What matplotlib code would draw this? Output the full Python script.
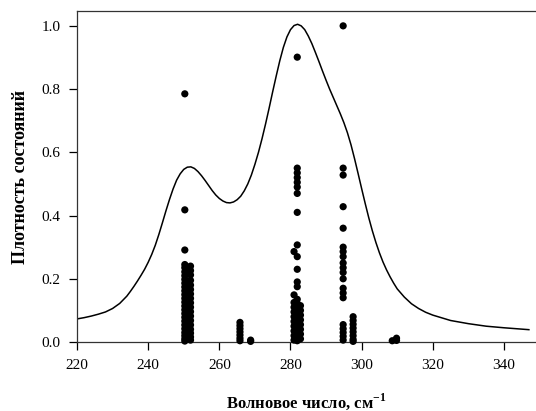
import matplotlib
matplotlib.use("Agg")
import matplotlib.pyplot as plt

plt.rcParams['font.family'] = ['Liberation Serif', 'DejaVu Serif']
plt.rcParams['mathtext.fontset'] = 'custom'
plt.rcParams['mathtext.rm'] = 'Liberation Serif'
plt.rcParams['mathtext.bf'] = 'Liberation Serif:bold'

# Broadened density-of-states curve
curve_x = [220, 222, 224, 226, 228, 230, 232, 234, 235, 236, 237, 238, 239, 240,
           241, 242, 243, 244, 245, 246, 247, 248, 249, 250, 251, 252, 253, 254,
           255, 256, 257, 258, 259, 260, 261, 262, 263, 264, 265, 266, 267, 268,
           269, 270, 271, 272, 273, 274, 275, 276, 277, 278, 279, 280, 281, 282,
           283, 284, 285, 286, 287, 288, 289, 290, 291, 292, 293, 294, 295, 296,
           297, 298, 299, 300, 301, 302, 303, 304, 305, 306, 307, 308, 309, 310,
           312, 314, 316, 318, 320, 325, 330, 335, 340, 347]
curve_y = [0.073, 0.077, 0.082, 0.088, 0.095, 0.106, 0.122, 0.145, 0.160, 0.176,
           0.193, 0.211, 0.230, 0.252, 0.277, 0.306, 0.340, 0.377, 0.415, 0.451,
           0.484, 0.512, 0.532, 0.546, 0.553, 0.554, 0.549, 0.539, 0.526, 0.511,
           0.495, 0.479, 0.465, 0.454, 0.446, 0.441, 0.440, 0.443, 0.450, 0.461,
           0.478, 0.500, 0.528, 0.562, 0.600, 0.643, 0.690, 0.740, 0.792, 0.842,
           0.890, 0.932, 0.965, 0.988, 1.001, 1.005, 1.000, 0.988, 0.968, 0.944,
           0.916, 0.887, 0.857, 0.828, 0.800, 0.774, 0.748, 0.722, 0.694, 0.662,
           0.624, 0.580, 0.533, 0.485, 0.438, 0.393, 0.352, 0.315, 0.282, 0.253,
           0.228, 0.206, 0.186, 0.168, 0.142, 0.121, 0.106, 0.094, 0.085, 0.068,
           0.058, 0.050, 0.045, 0.039]

# Individual modes (stick spectrum)
stick_x_250a = 250.3
stick_y_250a = [0.785, 0.418, 0.291, 0.245, 0.235, 0.222, 0.210, 0.198, 0.186,
                0.174, 0.162, 0.150, 0.138, 0.126, 0.114, 0.102, 0.090, 0.078,
                0.066, 0.054, 0.042, 0.030, 0.020, 0.010, 0.003]
stick_x_250b = 251.9
stick_y_250b = [0.240, 0.226, 0.212, 0.195, 0.180, 0.166, 0.152, 0.138, 0.124,
                0.110, 0.096, 0.082, 0.068, 0.054, 0.040, 0.028, 0.016, 0.006]
stick_x_266a = 265.8
stick_y_266a = [0.062, 0.052, 0.042, 0.032, 0.022, 0.012, 0.004]
stick_x_266b = 268.8
stick_y_266b = [0.006, 0.002]
stick_x_282a = 281.9
stick_y_282a = [0.901, 0.55, 0.535, 0.52, 0.505, 0.49, 0.47, 0.41, 0.307, 0.27,
                0.23, 0.19, 0.175, 0.135, 0.122, 0.110, 0.098, 0.086, 0.074,
                0.062, 0.050, 0.038, 0.026, 0.014, 0.004]
stick_x_282b = 281.0
stick_y_282b = [0.286, 0.149, 0.125, 0.110, 0.095, 0.080, 0.065, 0.050, 0.035,
                0.020, 0.006]
stick_x_282c = 282.8
stick_y_282c = [0.115, 0.100, 0.085, 0.070, 0.055, 0.040, 0.025, 0.010]
stick_x_295a = 294.8
stick_y_295a = [1.0, 0.55, 0.528, 0.428, 0.36, 0.30, 0.286, 0.27, 0.25, 0.235,
                0.22, 0.20, 0.17, 0.155, 0.14, 0.055, 0.042, 0.030, 0.018, 0.006]
stick_x_295b = 297.6
stick_y_295b = [0.080, 0.068, 0.056, 0.044, 0.032, 0.020, 0.008, 0.002]
stick_x_309a = 308.6
stick_y_309a = [0.004]
stick_x_309b = 309.8
stick_y_309b = [0.012, 0.005]

groups = [(stick_x_250a, stick_y_250a), (stick_x_250b, stick_y_250b),
          (stick_x_266a, stick_y_266a), (stick_x_266b, stick_y_266b),
          (stick_x_282a, stick_y_282a), (stick_x_282b, stick_y_282b),
          (stick_x_282c, stick_y_282c), (stick_x_295a, stick_y_295a),
          (stick_x_295b, stick_y_295b), (stick_x_309a, stick_y_309a),
          (stick_x_309b, stick_y_309b)]

x_ticks = [220, 240, 260, 280, 300, 320, 340]
y_ticks = [0.0, 0.2, 0.4, 0.6, 0.8, 1.0]

fig = plt.figure(figsize=(5.36, 4.11), dpi=100)
ax = fig.add_axes([77 / 536, 69 / 411, 459 / 536, 331 / 411])

ax.plot(curve_x, curve_y, color='black', lw=1.1, zorder=2)
for gx, gy in groups:
    ax.scatter([gx] * len(gy), gy, s=27, color='black', edgecolors='none', zorder=3,
               clip_on=False)

ax.set_xlim(220, 349)
ax.set_ylim(0, 1.047)
ax.set_xticks(x_ticks)
ax.set_xticklabels([str(t) for t in x_ticks])
ax.set_yticks(y_ticks)
ax.set_yticklabels([f"{t:.1f}" for t in y_ticks])
ax.tick_params(direction='out', length=6, width=0.9, labelsize=11, colors='black', pad=6)
for s in ['left', 'bottom', 'top']:
    ax.spines[s].set_linewidth(0.9)
    ax.spines[s].set_color('#333333')
ax.spines['right'].set_visible(False)

ax.set_xlabel("Волновое число, см$^{\\mathbf{-1}}$", fontsize=12, fontweight='bold',
              labelpad=14)
ax.set_ylabel("Плотность состояний", fontsize=13, fontweight='bold', labelpad=9)

fig.savefig("out.png", dpi=100)
